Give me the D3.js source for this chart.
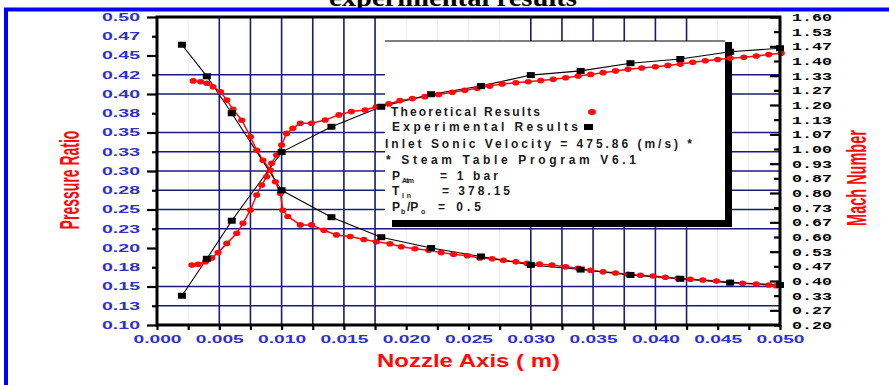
<!DOCTYPE html>
<html>
<head>
<meta charset="utf-8">
<script src="https://cdn.jsdelivr.net/npm/d3@7/dist/d3.min.js"></script>
<style>
  body { margin: 0; background: #ffffff; }
  svg { display: block; }
</style>
</head>
<body>
<svg id="chart" width="889" height="385"></svg>
<script>
// Experimental stations along the nozzle axis (m)
const expX = [0.002, 0.004, 0.006, 0.010, 0.014, 0.018, 0.022, 0.026, 0.030, 0.034, 0.038, 0.042, 0.046, 0.050];
const expPressure = [0.464, 0.423, 0.375, 0.275, 0.240, 0.214, 0.200, 0.189, 0.178, 0.172, 0.165, 0.160, 0.155, 0.152];
const expMach = [0.333, 0.501, 0.674, 0.986, 1.101, 1.192, 1.249, 1.286, 1.336, 1.355, 1.390, 1.409, 1.442, 1.458];

// Theoretical pressure ratio
const theoryPX = [0.0029, 0.0035, 0.0040, 0.0045, 0.0051, 0.0056, 0.0061, 0.0068, 0.0075, 0.0080, 0.0085, 0.0091,
  0.0095, 0.0099, 0.0101, 0.0105, 0.0115, 0.0124, 0.0134, 0.0144, 0.0155, 0.0166, 0.0176, 0.0187, 0.0196, 0.0207,
  0.0218, 0.0228, 0.0238, 0.0249, 0.0259, 0.0269, 0.0278, 0.0288, 0.0297, 0.0307, 0.0317, 0.0328, 0.0338, 0.0348,
  0.0358, 0.0368, 0.0378, 0.0388, 0.0398, 0.0408, 0.0418, 0.0428, 0.0438, 0.0449, 0.0460, 0.0470, 0.0481, 0.0491, 0.0497];
const theoryP = [0.417, 0.416, 0.414, 0.4095, 0.403, 0.392, 0.380, 0.366, 0.3445, 0.327, 0.314, 0.301,
  0.286, 0.271, 0.249, 0.241, 0.230, 0.230, 0.223, 0.217, 0.215, 0.211, 0.208, 0.2055, 0.2017, 0.199,
  0.197, 0.194, 0.192, 0.190, 0.187, 0.186, 0.184, 0.182, 0.180, 0.179, 0.178, 0.1755, 0.1736, 0.171,
  0.169, 0.1675, 0.166, 0.1647, 0.1636, 0.162, 0.1606, 0.1595, 0.1584, 0.157, 0.1554, 0.1543, 0.1532, 0.152, 0.151];

// Theoretical Mach number
const theoryMX = [0.0028, 0.0033, 0.0039, 0.0044, 0.0049, 0.0056, 0.0064, 0.0069, 0.0075, 0.0080, 0.0084, 0.0088,
  0.0092, 0.0096, 0.0100, 0.0104, 0.0109, 0.0115, 0.0124, 0.0135, 0.0146, 0.0156, 0.0167, 0.0176, 0.0186, 0.0195,
  0.0205, 0.0215, 0.0226, 0.0237, 0.0247, 0.0257, 0.0267, 0.0277, 0.0288, 0.0298, 0.0308, 0.0318, 0.0328, 0.0338,
  0.0348, 0.0358, 0.0368, 0.0378, 0.0389, 0.0400, 0.0410, 0.0420, 0.0430, 0.0440, 0.0450, 0.0460, 0.0471, 0.0481,
  0.0491, 0.0501];
const theoryM = [0.473, 0.476, 0.488, 0.505, 0.529, 0.571, 0.617, 0.662, 0.723, 0.791, 0.836, 0.874,
  0.935, 0.973, 1.018, 1.071, 1.094, 1.117, 1.117, 1.132, 1.155, 1.170, 1.177, 1.192, 1.205, 1.220,
  1.229, 1.238, 1.248, 1.258, 1.267, 1.276, 1.286, 1.296, 1.301, 1.306, 1.311, 1.317, 1.324, 1.332,
  1.339, 1.347, 1.355, 1.362, 1.368, 1.374, 1.380, 1.386, 1.394, 1.401, 1.407, 1.412, 1.417, 1.423,
  1.429, 1.435];

// Axis ticks and their printed labels
const xTicks = d3.range(21).map(i => i * 0.0025);
const xTickLabels = ["0.000", "0.005", "0.010", "0.015", "0.020", "0.025", "0.030", "0.035", "0.040", "0.045", "0.050"];
const pTicks = d3.range(17).map(i => 0.10 + i * 0.025);
const pTickLabels = ["0.10", "0.13", "0.15", "0.18", "0.20", "0.23", "0.25", "0.28", "0.30",
  "0.33", "0.35", "0.38", "0.40", "0.42", "0.45", "0.47", "0.50"];
const mTicks = d3.range(22).map(i => 0.20 + i * 1.4 / 21);
const mTickLabels = ["0.20", "0.27", "0.33", "0.40", "0.47", "0.53", "0.60", "0.67", "0.73", "0.80", "0.87",
  "0.93", "1.00", "1.07", "1.13", "1.20", "1.27", "1.33", "1.40", "1.47", "1.53", "1.60"];

// Dark reference grid lines
const gridXValues = [0.005, 0.0075, 0.010, 0.0125, 0.015, 0.0175, 0.030, 0.0325, 0.035, 0.0375, 0.040, 0.0425];
const gridPValues = [0.425, 0.40, 0.35, 0.325, 0.30, 0.275, 0.25, 0.225, 0.15, 0.125];

const legendNotes = ["Inlet Sonic Velocity = 475.86 (m/s) *", "* Steam Table Program V6.1"];

const svg = d3.select("#chart");
const L = 157, R = 780, T = 17, B = 325;

const x = d3.scaleLinear().domain([0, 0.05]).range([L, R]);
const yP = d3.scaleLinear().domain([0.10, 0.50]).range([B, T]);
const yM = d3.scaleLinear().domain([0.20, 1.60]).range([B, T]);

const NAVY = "#1b1b7a";
const RED = "#ff0a0a";
const BLUE_TXT = "#2f2fd2";

// Page frame
svg.append("rect").attr("x", 0).attr("y", 0).attr("width", 889).attr("height", 385).attr("fill", "#ffffff");
svg.append("text")
  .attr("x", 453).attr("y", 6)
  .attr("text-anchor", "middle")
  .attr("font-family", "Liberation Serif, Times New Roman, serif")
  .attr("font-weight", "bold").attr("font-size", 26)
  .attr("textLength", 248).attr("lengthAdjust", "spacingAndGlyphs")
  .attr("fill", "#000")
  .text("experimental results");
svg.append("rect").attr("x", 6).attr("y", 9.5).attr("width", 900).attr("height", 400)
  .attr("fill", "none").attr("stroke", "#0000ff").attr("stroke-width", 4);

// Faint background grid
svg.append("g").selectAll("line").data(xTicks.slice(1, -1)).join("line")
  .attr("x1", d => x(d)).attr("x2", d => x(d)).attr("y1", T).attr("y2", B)
  .attr("stroke", "#ececec").attr("stroke-width", 1);

// Dark grid
const grid = svg.append("g").attr("stroke", NAVY).attr("stroke-width", 1.6);
grid.selectAll("line.gx").data(gridXValues).join("line").attr("class", "gx")
  .attr("x1", d => x(d)).attr("x2", d => x(d)).attr("y1", T).attr("y2", B);
grid.selectAll("line.gy").data(gridPValues).join("line").attr("class", "gy")
  .attr("x1", L).attr("x2", R).attr("y1", d => yP(d)).attr("y2", d => yP(d));

// Legend panel with drop shadow
const box = { x: 385, y: 41, w: 340, h: 179 };
svg.append("rect").attr("x", box.x + 7).attr("y", box.y + 1).attr("width", box.w).attr("height", box.h + 6).attr("fill", "#000");
svg.append("rect").attr("x", box.x).attr("y", box.y).attr("width", box.w).attr("height", box.h).attr("fill", "#fff");
svg.append("line").attr("x1", box.x).attr("x2", box.x + box.w).attr("y1", box.y).attr("y2", box.y)
  .attr("stroke", "#000").attr("stroke-width", 1.2);

// Curves
const plotG = svg.append("g");
function series(xs, ys, yScale, color, width) {
  const pts = xs.map((d, i) => [x(d), yScale(ys[i])]);
  plotG.append("path").datum(pts)
    .attr("d", d3.line())
    .attr("fill", "none").attr("stroke", color).attr("stroke-width", width);
  return pts;
}
const thP = series(theoryPX, theoryP, yP, RED, 1.5);
const thM = series(theoryMX, theoryM, yM, RED, 1.5);
const exP = series(expX, expPressure, yP, "#000", 1.1);
const exM = series(expX, expMach, yM, "#000", 1.1);

plotG.selectAll("ellipse.th").data(thP.concat(thM)).join("ellipse").attr("class", "th")
  .attr("cx", d => d[0]).attr("cy", d => d[1]).attr("rx", 3.6).attr("ry", 2.8)
  .attr("fill", RED);
plotG.selectAll("rect.ex").data(exP.concat(exM)).join("rect").attr("class", "ex")
  .attr("x", d => d[0] - 4).attr("y", d => d[1] - 3).attr("width", 8).attr("height", 6)
  .attr("fill", "#000");

// Axes
const axisP = d3.axisLeft(yP).tickValues(pTicks).tickSizeInner(10).tickSizeOuter(0).tickPadding(7)
  .tickFormat((d, i) => pTickLabels[i]);
const gP = svg.append("g").attr("transform", `translate(${L},0)`).call(axisP);
gP.select(".domain").remove();
gP.selectAll(".tick line").attr("stroke", "#000").attr("stroke-width", 2.2)
  .attr("x2", (d, i) => i % 2 === 0 ? -10 : -5);
gP.selectAll(".tick text")
  .attr("font-family", "Liberation Sans, Arial, sans-serif").attr("font-weight", "bold").attr("font-size", 10.5)
  .attr("fill", BLUE_TXT).attr("textLength", 38).attr("lengthAdjust", "spacingAndGlyphs");

const axisM = d3.axisRight(yM).tickValues(mTicks).tickSizeInner(-10).tickSizeOuter(0).tickPadding(12)
  .tickFormat((d, i) => mTickLabels[i]);
const gM = svg.append("g").attr("transform", `translate(${R},0)`).call(axisM);
gM.select(".domain").remove();
gM.selectAll(".tick line").attr("stroke", "#000").attr("stroke-width", 2.2)
  .attr("x2", (d, i) => (21 - i) % 2 === 0 ? -10 : -6);
gM.selectAll(".tick text")
  .attr("font-family", "Liberation Mono, Courier New, monospace").attr("font-weight", "bold").attr("font-size", 11)
  .attr("fill", "#000").attr("textLength", 40).attr("lengthAdjust", "spacingAndGlyphs");

const axisX = d3.axisBottom(x).tickValues(xTicks).tickSizeInner(5).tickSizeOuter(0)
  .tickFormat((d, i) => i % 2 === 0 ? xTickLabels[i / 2] : "");
const gX = svg.append("g").attr("transform", `translate(0,${B})`).call(axisX);
gX.select(".domain").remove();
gX.selectAll(".tick line").attr("stroke", "#000").attr("stroke-width", 2.2);
gX.selectAll(".tick text")
  .attr("y", 18).attr("dy", 0)
  .attr("font-family", "Liberation Sans, Arial, sans-serif").attr("font-weight", "bold").attr("font-size", 10.5)
  .attr("fill", BLUE_TXT)
  .filter(function () { return this.textContent !== ""; })
  .attr("textLength", 48).attr("lengthAdjust", "spacingAndGlyphs");

// Plot frame
svg.append("rect").attr("x", L).attr("y", T).attr("width", R - L).attr("height", B - T)
  .attr("fill", "none").attr("stroke", "#000").attr("stroke-width", 3);

// Axis titles
svg.append("text")
  .attr("transform", "translate(79,180) scale(2,1) rotate(-90)")
  .attr("text-anchor", "middle")
  .attr("font-family", "Liberation Sans, Arial, sans-serif").attr("font-weight", "bold").attr("font-size", 14)
  .attr("fill", RED).text("Pressure Ratio");
svg.append("text")
  .attr("transform", "translate(866,178) scale(1.9,1) rotate(-90)")
  .attr("text-anchor", "middle")
  .attr("font-family", "Liberation Sans, Arial, sans-serif").attr("font-weight", "bold").attr("font-size", 14.5)
  .attr("fill", RED).text("Mach Number");
svg.append("text")
  .attr("x", 377).attr("y", 367)
  .attr("font-family", "Liberation Sans, Arial, sans-serif").attr("font-weight", "bold").attr("font-size", 18)
  .attr("textLength", 183).attr("lengthAdjust", "spacingAndGlyphs")
  .attr("fill", RED).text("Nozzle Axis ( m)");

// Legend content
const lg = svg.append("g")
  .attr("font-family", "Liberation Sans, Arial, sans-serif").attr("font-weight", "bold")
  .attr("font-size", 12).attr("fill", "#1a1a1a");
function ltext(tx, ty, str, len, size) {
  const t = lg.append("text").attr("x", tx).attr("y", ty).text(str);
  if (len) t.attr("textLength", len).attr("lengthAdjust", "spacing");
  if (size) t.attr("font-size", size);
  return t;
}
ltext(391, 116, "Theoretical Results", 149);
lg.append("ellipse").attr("cx", 592).attr("cy", 112).attr("rx", 4).attr("ry", 3).attr("fill", RED);
ltext(392, 131, "Experimental Results", 186);
lg.append("rect").attr("x", 584).attr("y", 124).attr("width", 9).attr("height", 6).attr("fill", "#000");
ltext(385, 147.5, legendNotes[0], 307);
ltext(386, 164, legendNotes[1], 250);

ltext(392, 180, "P");
ltext(402, 183, "Atm", 12, 7);
ltext(440, 180, "= 1 bar", 58);
ltext(392, 195, "T");
ltext(402, 198, "in", 9, 7);
ltext(442, 195, "= 378.15", 68);
ltext(392, 211, "P");
ltext(401, 214, "b", 5, 7);
ltext(407, 211, "/P");
ltext(421, 214, "o", 5, 7);
ltext(438, 211, "= 0.5", 43);
</script>
</body>
</html>
